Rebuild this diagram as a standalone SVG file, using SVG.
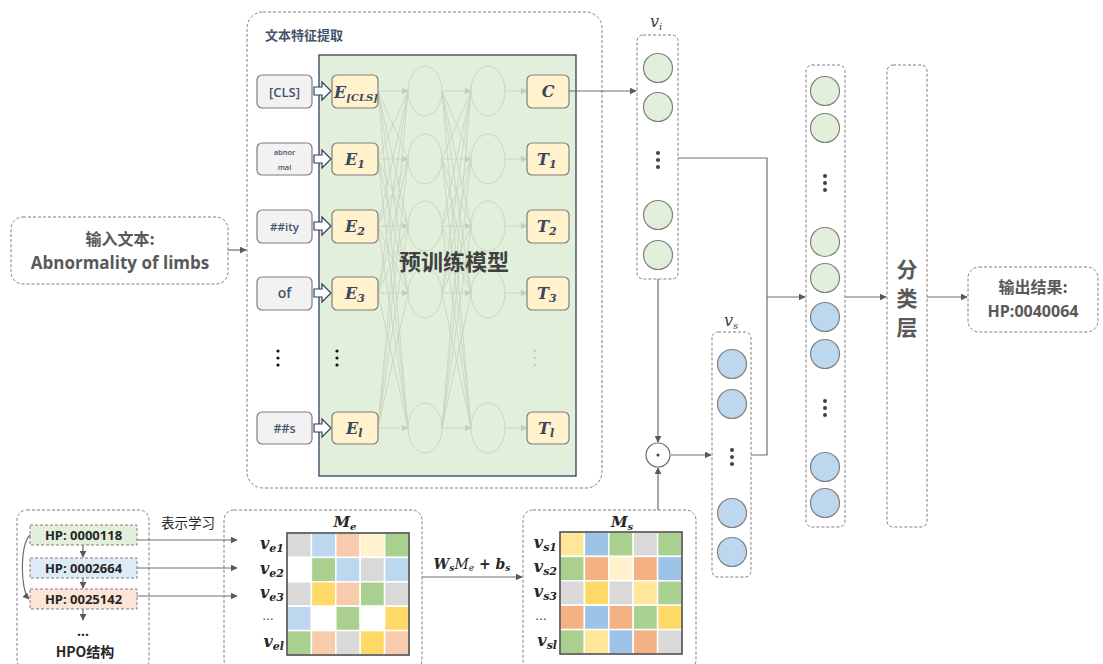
<svg xmlns="http://www.w3.org/2000/svg" width="1103" height="664" viewBox="0 0 1103 664">
<defs>
<marker id="ah" viewBox="0 0 10 10" refX="9" refY="5" markerWidth="7" markerHeight="7" orient="auto" markerUnits="userSpaceOnUse"><path d="M0,0 L10,5 L0,10 z" fill="#595959"/></marker>
<marker id="ahl" viewBox="0 0 10 10" refX="9" refY="5" markerWidth="7" markerHeight="7" orient="auto" markerUnits="userSpaceOnUse"><path d="M0,0 L10,5 L0,10 z" fill="#c3d0bb"/></marker>
<style>
.dash{fill:#fff;stroke:#7f7f7f;stroke-width:1;stroke-dasharray:3,2}
.tok{fill:#f2f2f2;stroke:#7f7f7f;stroke-width:1.2}
.emb{fill:#fff2cc;stroke:#7f7f7f;stroke-width:1.2}
.conn{fill:none;stroke:#6e6e6e;stroke-width:1.2}
.net{fill:none;stroke:#c9d5c1;stroke-width:0.9}
.nc{fill:none;stroke:#cbd6c3;stroke-width:1}
.g{fill:#e2efda;stroke:#808080;stroke-width:1.2}
.b{fill:#bdd7ee;stroke:#808080;stroke-width:1.2}
.zh{font-family:"Noto Sans CJK SC",sans-serif;font-weight:bold;fill:#595959}
.lat{font-family:"Open Sans","Liberation Sans",sans-serif;font-weight:600;fill:#44546a}
.math{font-family:"DejaVu Serif","Liberation Serif",serif;font-style:italic;font-weight:bold;fill:#3a4660}
.mt{font-family:"DejaVu Serif","Liberation Serif",serif;font-style:italic;font-weight:bold;fill:#262626}
.blk{fill:#fff;stroke:#2f3f5f;stroke-width:1.2}
.dot{fill:#404040}
.cell{stroke:#fff;stroke-width:1.5}
.hp{font-family:"Open Sans","Liberation Sans",sans-serif;font-weight:bold;font-size:13px;fill:#262626}
</style>
</defs>

<g id="input-text">
<rect x="11" y="217" width="217" height="67" rx="12" class="dash"/>
<text x="120" y="245" text-anchor="middle" class="zh" font-size="16">输入文本:</text>
<text x="120" y="269" text-anchor="middle" font-family="Open Sans,Liberation Sans,sans-serif" font-weight="bold" font-size="17" fill="#595959">Abnormality of limbs</text>
</g>

<g id="feature-extraction">
<rect x="247" y="12" width="355" height="476" rx="16" class="dash"/>
<text x="265" y="40" class="zh" font-size="13" style="fill:#44546a">文本特征提取</text>
<rect x="319" y="55" width="257" height="421" fill="#e2efda" stroke="#2f3f5f" stroke-width="1.3"/>
</g>

<g id="network">
<g class="net">
<path d="M378,91 L408,159 M378,91 L408,226 M378,91 L408,293 M378,91 L408,428 M378,159 L408,91 M378,159 L408,226 M378,159 L408,293 M378,159 L408,428 M378,226 L408,91 M378,226 L408,159 M378,226 L408,293 M378,226 L408,428 M378,293 L408,91 M378,293 L408,159 M378,293 L408,226 M378,293 L408,428 M378,428 L408,91 M378,428 L408,159 M378,428 L408,226 M378,428 L408,293"/>
<path d="M442,91 L471,159 M442,91 L471,226 M442,91 L471,293 M442,91 L471,428 M442,159 L471,91 M442,159 L471,226 M442,159 L471,293 M442,159 L471,428 M442,226 L471,91 M442,226 L471,159 M442,226 L471,293 M442,226 L471,428 M442,293 L471,91 M442,293 L471,159 M442,293 L471,226 M442,293 L471,428 M442,428 L471,91 M442,428 L471,159 M442,428 L471,226 M442,428 L471,293"/>
</g>
<g class="net" marker-end="url(#ahl)">
<line x1="378" y1="91" x2="408" y2="91"/><line x1="378" y1="159" x2="408" y2="159"/><line x1="378" y1="226" x2="408" y2="226"/><line x1="378" y1="293" x2="408" y2="293"/><line x1="378" y1="428" x2="408" y2="428"/>
<line x1="442" y1="91" x2="471" y2="91"/><line x1="442" y1="159" x2="471" y2="159"/><line x1="442" y1="226" x2="471" y2="226"/><line x1="442" y1="293" x2="471" y2="293"/><line x1="442" y1="428" x2="471" y2="428"/>
<line x1="505" y1="91" x2="527" y2="91"/><line x1="505" y1="159" x2="527" y2="159"/><line x1="505" y1="226" x2="527" y2="226"/><line x1="505" y1="293" x2="527" y2="293"/><line x1="505" y1="428" x2="527" y2="428"/>
</g>
<g class="nc">
<ellipse cx="425" cy="91" rx="17" ry="25"/><ellipse cx="425" cy="159" rx="17" ry="25"/><ellipse cx="425" cy="226" rx="17" ry="25"/><ellipse cx="425" cy="293" rx="17" ry="25"/><ellipse cx="425" cy="428" rx="17" ry="25"/>
<ellipse cx="488" cy="91" rx="17" ry="25"/><ellipse cx="488" cy="159" rx="17" ry="25"/><ellipse cx="488" cy="226" rx="17" ry="25"/><ellipse cx="488" cy="293" rx="17" ry="25"/><ellipse cx="488" cy="428" rx="17" ry="25"/>
</g>
<text x="454" y="270" text-anchor="middle" class="zh" font-size="22" style="fill:#404040">预训练模型</text>
</g>

<g id="tokens">
<rect x="257" y="75" width="55" height="33" rx="5" class="tok"/>
<text x="284.5" y="97" text-anchor="middle" class="lat" font-size="13">[CLS]</text>
<rect x="257" y="143" width="55" height="32" rx="5" class="tok"/>
<text x="284.5" y="155" text-anchor="middle" class="lat" font-size="7.5">abnor</text>
<text x="284.5" y="170" text-anchor="middle" class="lat" font-size="7.5">mal</text>
<rect x="257" y="210" width="55" height="33" rx="5" class="tok"/>
<text x="284.5" y="231" text-anchor="middle" class="lat" font-size="11.5">##ity</text>
<rect x="257" y="277" width="55" height="33" rx="5" class="tok"/>
<text x="284.5" y="298" text-anchor="middle" class="lat" font-size="14">of</text>
<rect x="257" y="412" width="55" height="32" rx="5" class="tok"/>
<text x="284.5" y="433" text-anchor="middle" class="lat" font-size="12.5">##s</text>
<circle cx="278" cy="351" r="1.6" style="fill:#111"/><circle cx="278" cy="358" r="1.6" style="fill:#111"/><circle cx="278" cy="365" r="1.6" style="fill:#111"/>
</g>

<g id="block-arrows">
<polygon points="314,87 322,87 322,82 331,91 322,100 322,95 314,95" class="blk"/>
<polygon points="314,155 322,155 322,150 331,159 322,168 322,163 314,163" class="blk"/>
<polygon points="314,222 322,222 322,217 331,226 322,235 322,230 314,230" class="blk"/>
<polygon points="314,289 322,289 322,284 331,293 322,302 322,297 314,297" class="blk"/>
<polygon points="314,424 322,424 322,419 331,428 322,437 322,432 314,432" class="blk"/>
</g>

<g id="embeddings">
<rect x="332" y="75" width="46" height="33" rx="5" class="emb"/>
<text x="334" y="98" class="math" font-size="16">E<tspan font-size="10" dy="3">[CLS]</tspan></text>
<rect x="332" y="143" width="46" height="32" rx="5" class="emb"/>
<text x="345" y="165" class="math" font-size="16">E<tspan font-size="11" dy="3">1</tspan></text>
<rect x="332" y="210" width="46" height="33" rx="5" class="emb"/>
<text x="345" y="232" class="math" font-size="16">E<tspan font-size="11" dy="3">2</tspan></text>
<rect x="332" y="277" width="46" height="33" rx="5" class="emb"/>
<text x="345" y="299" class="math" font-size="16">E<tspan font-size="11" dy="3">3</tspan></text>
<rect x="332" y="412" width="46" height="32" rx="5" class="emb"/>
<text x="346" y="434" class="math" font-size="16">E<tspan font-size="11" dy="3">l</tspan></text>
<circle cx="337" cy="351" r="1.6" style="fill:#111"/><circle cx="337" cy="358" r="1.6" style="fill:#111"/><circle cx="337" cy="365" r="1.6" style="fill:#111"/>
</g>

<g id="outputs">
<rect x="527" y="75" width="42" height="33" rx="5" class="emb"/>
<text x="548" y="97" text-anchor="middle" class="math" font-size="16">C</text>
<rect x="527" y="143" width="42" height="32" rx="5" class="emb"/>
<text x="537" y="165" class="math" font-size="16">T<tspan font-size="11" dy="3">1</tspan></text>
<rect x="527" y="210" width="42" height="33" rx="5" class="emb"/>
<text x="537" y="232" class="math" font-size="16">T<tspan font-size="11" dy="3">2</tspan></text>
<rect x="527" y="277" width="42" height="33" rx="5" class="emb"/>
<text x="537" y="299" class="math" font-size="16">T<tspan font-size="11" dy="3">3</tspan></text>
<rect x="527" y="412" width="42" height="32" rx="5" class="emb"/>
<text x="538" y="434" class="math" font-size="16">T<tspan font-size="11" dy="3">l</tspan></text>
<circle cx="535" cy="351" r="1.3" fill="#c8cfc4"/><circle cx="535" cy="358" r="1.3" fill="#c8cfc4"/><circle cx="535" cy="365" r="1.3" fill="#c8cfc4"/>
</g>

<g id="vi">
<rect x="637" y="35" width="41" height="244" rx="6" class="dash"/>
<text x="650" y="27" class="mt" font-size="16" style="font-weight:normal;fill:#404040">v<tspan font-size="10" dy="3">i</tspan></text>
<circle cx="658" cy="68" r="14.5" class="g"/><circle cx="658" cy="107" r="14.5" class="g"/>
<circle cx="658" cy="153" r="2" class="dot"/><circle cx="658" cy="160" r="2" class="dot"/><circle cx="658" cy="167" r="2" class="dot"/>
<circle cx="658" cy="215" r="14.5" class="g"/><circle cx="658" cy="255" r="14.5" class="g"/>
</g>

<g id="vs">
<rect x="712" y="332" width="39" height="245" rx="6" class="dash"/>
<text x="724" y="326" class="mt" font-size="16" style="font-weight:normal;fill:#404040">v<tspan font-size="10" dy="3">s</tspan></text>
<circle cx="732" cy="364" r="14.5" class="b"/><circle cx="732" cy="404" r="14.5" class="b"/>
<circle cx="732" cy="450" r="2" class="dot"/><circle cx="732" cy="457" r="2" class="dot"/><circle cx="732" cy="464" r="2" class="dot"/>
<circle cx="732" cy="513" r="14.5" class="b"/><circle cx="732" cy="552" r="14.5" class="b"/>
</g>

<g id="hadamard">
<circle cx="658" cy="455" r="12" fill="#fff" stroke="#6e6e6e" stroke-width="1.2"/>
<circle cx="658" cy="455" r="1.5" fill="#404040"/>
</g>

<g id="concat">
<rect x="806" y="65" width="39" height="462" rx="6" class="dash"/>
<circle cx="825" cy="91" r="14.5" class="g"/><circle cx="825" cy="128" r="14.5" class="g"/>
<circle cx="825" cy="176" r="2" class="dot"/><circle cx="825" cy="183" r="2" class="dot"/><circle cx="825" cy="190" r="2" class="dot"/>
<circle cx="825" cy="242" r="14.5" class="g"/><circle cx="825" cy="278" r="14.5" class="g"/>
<circle cx="825" cy="317" r="14.5" class="b"/><circle cx="825" cy="354" r="14.5" class="b"/>
<circle cx="825" cy="401" r="2" class="dot"/><circle cx="825" cy="408" r="2" class="dot"/><circle cx="825" cy="415" r="2" class="dot"/>
<circle cx="825" cy="467" r="14.5" class="b"/><circle cx="825" cy="503" r="14.5" class="b"/>
</g>

<g id="classifier">
<rect x="887" y="65" width="40" height="462" rx="6" class="dash"/>
<text x="907" y="277" text-anchor="middle" class="zh" font-size="21">分</text>
<text x="907" y="306" text-anchor="middle" class="zh" font-size="21">类</text>
<text x="907" y="335" text-anchor="middle" class="zh" font-size="21">层</text>
</g>

<g id="output-result">
<rect x="968" y="267" width="130" height="65" rx="11" class="dash"/>
<text x="1033" y="293" text-anchor="middle" class="zh" font-size="16">输出结果:</text>
<text x="1033" y="317" text-anchor="middle" font-family="Open Sans,Liberation Sans,sans-serif" font-weight="bold" font-size="16" fill="#595959">HP:0040064</text>
</g>

<g id="hpo">
<rect x="17" y="510" width="132" height="160" rx="10" class="dash"/>
<rect x="30" y="525" width="107" height="20" fill="#e2efda" stroke="#7f7f7f" stroke-width="1" stroke-dasharray="3,2"/>
<text x="83.5" y="540" text-anchor="middle" class="hp">HP: 0000118</text>
<rect x="30" y="558" width="107" height="20" fill="#ddebf7" stroke="#7f7f7f" stroke-width="1" stroke-dasharray="3,2"/>
<text x="83.5" y="573" text-anchor="middle" class="hp">HP: 0002664</text>
<rect x="30" y="589" width="107" height="20" fill="#fce4d6" stroke="#7f7f7f" stroke-width="1" stroke-dasharray="3,2"/>
<text x="83.5" y="604" text-anchor="middle" class="hp">HP: 0025142</text>
<text x="83" y="636" text-anchor="middle" font-family="Open Sans,Liberation Sans,sans-serif" font-weight="bold" font-size="14" fill="#262626">…</text>
<text x="85" y="657" text-anchor="middle" class="zh" font-size="14" style="fill:#262626">HPO结构</text>
<text x="188" y="528" text-anchor="middle" class="zh" font-size="13.5" style="fill:#262626;font-weight:normal">表示学习</text>
</g>

<g id="Me">
<rect x="224" y="510" width="198" height="160" rx="10" class="dash"/>
<text x="345" y="527" text-anchor="middle" class="mt" font-size="15">M<tspan font-size="10" dy="3">e</tspan></text>
<g class="cell">
<rect x="287" y="533" width="24.4" height="24.4" fill="#d9d9d9"/><rect x="311.4" y="533" width="24.4" height="24.4" fill="#bdd7ee"/><rect x="335.8" y="533" width="24.4" height="24.4" fill="#f8cbad"/><rect x="360.2" y="533" width="24.4" height="24.4" fill="#fff2cc"/><rect x="384.6" y="533" width="24.4" height="24.4" fill="#a9d08e"/>
<rect x="287" y="557.4" width="24.4" height="24.4" fill="#ffffff"/><rect x="311.4" y="557.4" width="24.4" height="24.4" fill="#a9d08e"/><rect x="335.8" y="557.4" width="24.4" height="24.4" fill="#bdd7ee"/><rect x="360.2" y="557.4" width="24.4" height="24.4" fill="#d9d9d9"/><rect x="384.6" y="557.4" width="24.4" height="24.4" fill="#bdd7ee"/>
<rect x="287" y="581.8" width="24.4" height="24.4" fill="#d9d9d9"/><rect x="311.4" y="581.8" width="24.4" height="24.4" fill="#ffd966"/><rect x="335.8" y="581.8" width="24.4" height="24.4" fill="#f8cbad"/><rect x="360.2" y="581.8" width="24.4" height="24.4" fill="#a9d08e"/><rect x="384.6" y="581.8" width="24.4" height="24.4" fill="#d9d9d9"/>
<rect x="287" y="606.2" width="24.4" height="24.4" fill="#bdd7ee"/><rect x="311.4" y="606.2" width="24.4" height="24.4" fill="#ffffff"/><rect x="335.8" y="606.2" width="24.4" height="24.4" fill="#a9d08e"/><rect x="360.2" y="606.2" width="24.4" height="24.4" fill="#ffffff"/><rect x="384.6" y="606.2" width="24.4" height="24.4" fill="#ffd966"/>
<rect x="287" y="630.6" width="24.4" height="24.4" fill="#a9d08e"/><rect x="311.4" y="630.6" width="24.4" height="24.4" fill="#f8cbad"/><rect x="335.8" y="630.6" width="24.4" height="24.4" fill="#d9d9d9"/><rect x="360.2" y="630.6" width="24.4" height="24.4" fill="#ffd966"/><rect x="384.6" y="630.6" width="24.4" height="24.4" fill="#f8cbad"/>
</g>
<rect x="287" y="533" width="122" height="122" fill="none" stroke="#404040" stroke-width="1.5"/>
<text x="284" y="549" text-anchor="end" class="mt" font-size="16">v<tspan font-size="11" dy="3">e1</tspan></text>
<text x="284" y="574" text-anchor="end" class="mt" font-size="16">v<tspan font-size="11" dy="3">e2</tspan></text>
<text x="284" y="598" text-anchor="end" class="mt" font-size="16">v<tspan font-size="11" dy="3">e3</tspan></text>
<text x="268" y="620" text-anchor="middle" font-family="Liberation Sans,sans-serif" font-size="12" fill="#262626">…</text>
<text x="284" y="647" text-anchor="end" class="mt" font-size="16">v<tspan font-size="11" dy="3">el</tspan></text>
</g>

<g id="Ms">
<rect x="523" y="510" width="173" height="160" rx="10" class="dash"/>
<text x="622" y="527" text-anchor="middle" class="mt" font-size="15">M<tspan font-size="10" dy="3">s</tspan></text>
<g class="cell">
<rect x="560" y="532" width="24.4" height="24.4" fill="#ffe699"/><rect x="584.4" y="532" width="24.4" height="24.4" fill="#9dc3e6"/><rect x="608.8" y="532" width="24.4" height="24.4" fill="#a9d08e"/><rect x="633.2" y="532" width="24.4" height="24.4" fill="#d9d9d9"/><rect x="657.6" y="532" width="24.4" height="24.4" fill="#a9d08e"/>
<rect x="560" y="556.4" width="24.4" height="24.4" fill="#a9d08e"/><rect x="584.4" y="556.4" width="24.4" height="24.4" fill="#f4b183"/><rect x="608.8" y="556.4" width="24.4" height="24.4" fill="#fff2cc"/><rect x="633.2" y="556.4" width="24.4" height="24.4" fill="#f4b183"/><rect x="657.6" y="556.4" width="24.4" height="24.4" fill="#9dc3e6"/>
<rect x="560" y="580.8" width="24.4" height="24.4" fill="#d9d9d9"/><rect x="584.4" y="580.8" width="24.4" height="24.4" fill="#ffd966"/><rect x="608.8" y="580.8" width="24.4" height="24.4" fill="#d9d9d9"/><rect x="633.2" y="580.8" width="24.4" height="24.4" fill="#ffe699"/><rect x="657.6" y="580.8" width="24.4" height="24.4" fill="#a9d08e"/>
<rect x="560" y="605.2" width="24.4" height="24.4" fill="#f4b183"/><rect x="584.4" y="605.2" width="24.4" height="24.4" fill="#9dc3e6"/><rect x="608.8" y="605.2" width="24.4" height="24.4" fill="#f4b183"/><rect x="633.2" y="605.2" width="24.4" height="24.4" fill="#a9d08e"/><rect x="657.6" y="605.2" width="24.4" height="24.4" fill="#ffd966"/>
<rect x="560" y="629.6" width="24.4" height="24.4" fill="#a9d08e"/><rect x="584.4" y="629.6" width="24.4" height="24.4" fill="#ffe699"/><rect x="608.8" y="629.6" width="24.4" height="24.4" fill="#9dc3e6"/><rect x="633.2" y="629.6" width="24.4" height="24.4" fill="#f4b183"/><rect x="657.6" y="629.6" width="24.4" height="24.4" fill="#d9d9d9"/>
</g>
<rect x="560" y="532" width="122" height="122" fill="none" stroke="#404040" stroke-width="1.5"/>
<text x="557" y="548" text-anchor="end" class="mt" font-size="16">v<tspan font-size="11" dy="3">s1</tspan></text>
<text x="557" y="572" text-anchor="end" class="mt" font-size="16">v<tspan font-size="11" dy="3">s2</tspan></text>
<text x="557" y="597" text-anchor="end" class="mt" font-size="16">v<tspan font-size="11" dy="3">s3</tspan></text>
<text x="541" y="620" text-anchor="middle" font-family="Liberation Sans,sans-serif" font-size="12" fill="#262626">…</text>
<text x="557" y="646" text-anchor="end" class="mt" font-size="16">v<tspan font-size="11" dy="3">sl</tspan></text>
</g>

<g id="connectors" class="conn">
<line x1="228" y1="250" x2="246" y2="250" marker-end="url(#ah)"/>
<line x1="569" y1="91" x2="636" y2="91" marker-end="url(#ah)"/>
<polyline points="678,158 767,158 767,455 751,455"/>
<line x1="767" y1="297" x2="805" y2="297" marker-end="url(#ah)"/>
<line x1="845" y1="297" x2="886" y2="297" marker-end="url(#ah)"/>
<line x1="927" y1="297" x2="967" y2="297" marker-end="url(#ah)"/>
<line x1="658" y1="279" x2="658" y2="442" marker-end="url(#ah)"/>
<line x1="658" y1="510" x2="658" y2="468" marker-end="url(#ah)"/>
<line x1="671" y1="455" x2="711" y2="455" marker-end="url(#ah)"/>
<line x1="422" y1="577" x2="522" y2="577" marker-end="url(#ah)"/>
<line x1="137" y1="540" x2="237" y2="540" marker-end="url(#ah)"/>
<line x1="137" y1="568" x2="237" y2="568" marker-end="url(#ah)"/>
<line x1="137" y1="596" x2="237" y2="596" marker-end="url(#ah)"/>
<line x1="83" y1="545" x2="83" y2="557" marker-end="url(#ah)"/>
<line x1="83" y1="578" x2="83" y2="588" marker-end="url(#ah)"/>
<line x1="83" y1="609" x2="83" y2="620" marker-end="url(#ah)"/>
<path d="M30,535 C20,545 20,590 29,599" marker-end="url(#ah)"/>
</g>
<text x="472" y="569" text-anchor="middle" class="mt" font-size="14">W<tspan font-size="9" dy="2">s</tspan><tspan dy="-2" style="font-weight:normal">M</tspan><tspan font-size="9" dy="2" style="font-weight:normal">e</tspan><tspan dy="-2"> + b</tspan><tspan font-size="9" dy="2">s</tspan></text>
</svg>
